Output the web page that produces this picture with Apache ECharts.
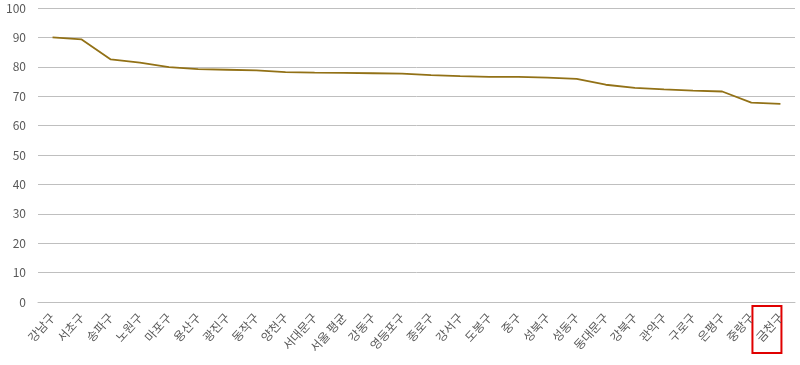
<!DOCTYPE html>
<html><head><meta charset="utf-8">
<script src="https://cdn.jsdelivr.net/npm/echarts@6/dist/echarts.min.js"></script>
<style>html,body{margin:0;padding:0;background:#fff}#c{width:800px;height:365px}</style>
</head><body><div id="c"></div>
<script>
const categories = ['강남구','서초구','송파구','노원구','마포구','용산구','광진구','동작구','양천구','서대문구','서울 평균','강동구','영등포구','종로구','강서구','도봉구','중구','성북구','성동구','동대문구','강북구','관악구','구로구','은평구','중랑구','금천구'];
const values = [90.0,89.3,82.5,81.4,79.9,79.2,79.0,78.8,78.2,78.0,77.9,77.8,77.7,77.2,76.8,76.6,76.6,76.3,75.9,73.9,72.8,72.3,71.9,71.6,67.8,67.4];
const yTicks = {min:0, max:100, interval:10};
const highlighted = '금천구';

const chart = echarts.init(document.getElementById('c'));
const font = '"Noto Sans CJK KR", "Noto Sans", sans-serif';
chart.setOption({
  animation:false,
  grid:{left:38,right:5,top:8,bottom:63},
  xAxis:{type:'category',data:categories,boundaryGap:true,
    axisLine:{lineStyle:{color:'#bfbfbf'}},axisTick:{show:false},
    axisLabel:{rotate:48,interval:0,color:'#595959',fontSize:12,fontFamily:font,margin:13}},
  yAxis:{type:'value',min:yTicks.min,max:yTicks.max,interval:yTicks.interval,
    axisLine:{show:false},axisTick:{show:false},
    splitLine:{lineStyle:{color:'#bfbfbf'}},
    axisLabel:{color:'#595959',fontSize:12,fontFamily:font,margin:12}},
  series:[{type:'line',data:values,symbol:'none',lineStyle:{color:'#927116',width:1.8}}]
});
// highlight box around the 금천구 label
const idx = categories.indexOf(highlighted);
const px = chart.convertToPixel({xAxisIndex:0}, idx);
const py = chart.convertToPixel({yAxisIndex:0}, 0);
chart.setOption({graphic:[{type:'rect',shape:{x:px-28,y:py+4,width:29,height:47},
  style:{fill:'none',stroke:'#e00000',lineWidth:2}}]});
</script></body></html>
